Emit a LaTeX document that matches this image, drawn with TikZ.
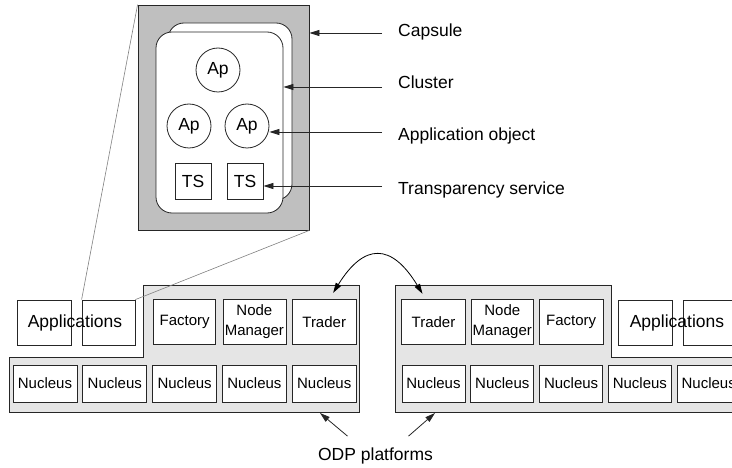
\documentclass[tikz,border=0pt]{standalone}
\usepackage{fontspec}
\setmainfont{Liberation Sans}
\usetikzlibrary{arrows.meta,positioning,calc}

\newcommand{\bigtext}{\fontsize{17.5}{21}\selectfont}
\newcommand{\smalltext}{\fontsize{15}{16.5}\selectfont}

\begin{document}
\begin{tikzpicture}[
    x=1pt, y=-1pt,
    box/.style={rectangle, draw=black!85, fill=white, line width=0.8pt, inner sep=0pt, font=\smalltext, align=center, minimum width=64, minimum height=45},
    nucbox/.style={box, minimum height=37},
    appbox/.style={box, minimum width=54},
    tsbox/.style={box, minimum width=36, minimum height=36, font=\bigtext},
    apcircle/.style={circle, draw=black!85, fill=white, line width=0.8pt, inner sep=0pt, minimum size=44, font=\bigtext},
    cluster/.style={rectangle, rounded corners=16pt, draw=black!85, fill=white, line width=0.8pt},
    platform/.style={draw=black!85, fill=gray!20, line width=0.8pt},
    label/.style={inner sep=0pt, font=\bigtext, anchor=base west},
    pointer/.style={-{Triangle[length=10pt,width=6pt]}, line width=0.8pt, black!85},
    zoomline/.style={gray, line width=0.6pt}
]
    \clip (0,0) rectangle (732,468);

    % the two platforms
    \draw[platform] (9,357) -- (143,357) -- (143,285) -- (359,285) -- (359,412) -- (9,412) -- cycle;
    \draw[platform] (395,285) -- (611,285) -- (611,357) -- (760,357) -- (760,412) -- (395,412) -- cycle;

    % left platform
    \node[nucbox] (n1) at (45,383.5) {Nucleus};
    \node[nucbox, right=5pt of n1] (n2) {Nucleus};
    \node[nucbox, right=5pt of n2] (n3) {Nucleus};
    \node[nucbox, right=5pt of n3] (n4) {Nucleus};
    \node[nucbox, right=5pt of n4] (n5) {Nucleus};
    \node[box, above=20pt of n3, minimum width=62] (fac1) {Factory};
    \node[box, above=20pt of n4, minimum width=63] (nm1) {Node\\[3pt]Manager};
    \node[box, above=20pt of n5] (tr1) {Trader};
    \node[appbox] (app1) at (44,322.5) {};
    \node[appbox, minimum width=53] (app2) at (108.5,322.5) {};
    \node[inner sep=0pt, font=\bigtext] (appsL) at (75,322.5) {Applications};

    % right platform
    \node[nucbox, minimum width=63] (m1) at (433.5,383.5) {Nucleus};
    \node[nucbox, minimum width=63, right=5pt of m1] (m2) {Nucleus};
    \node[nucbox, minimum width=63, right=5pt of m2] (m3) {Nucleus};
    \node[nucbox, minimum width=63, right=5pt of m3] (m4) {Nucleus};
    \node[nucbox, minimum width=63, right=5pt of m4] (m5) {Nucleus};
    \node[box, above=20pt of m1] (tr2) {Trader};
    \node[box, above=20pt of m2, minimum width=62] (nm2) {Node\\[3pt]Manager};
    \node[box, above=20pt of m3] (fac2) {Factory};
    \node[appbox] (app3) at (645,322.5) {};
    \node[appbox, minimum width=53] (app4) at (709.5,322.5) {};
    \node[inner sep=0pt, font=\bigtext] (appsR) at (677,322.5) {Applications};

    % traders talk to each other
    \draw[{Triangle[length=10pt,width=6pt]}-{Triangle[length=10pt,width=6pt]}, line width=0.8pt]
        ($(tr1.north)+(9,-6)$) .. controls ($(tr1.north)+(40,-56)$) and ($(tr2.north)+(-42,-56)$) .. ($(tr2.north)+(-11,-5)$);

    % capsule with its clusters
    \node[rectangle, draw=black!85, fill=gray!50, line width=0.8pt, minimum width=171, minimum height=225] (capsule) at (223.5,117.5) {};
    \draw[zoomline] (capsule.north west) -- (app2.north west);
    \draw[zoomline] (capsule.south east) -- (app2.north east);
    \node[cluster, minimum width=124, minimum height=177] (clback) at (230,111.5) {};
    \node[cluster, minimum width=127, minimum height=181] (clfront) at (219.5,122.5) {};
    \node[apcircle] (ap1) at (218,70) {Ap};
    \node[apcircle] (ap2) at (189,126) {Ap};
    \node[apcircle] (ap3) at (247,126) {Ap};
    \node[tsbox] (ts1) at (193,181) {TS};
    \node[tsbox] (ts2) at (245,181) {TS};

    % legend on the right
    \node[label] (lcaps) at (398,37) {Capsule};
    \node[label] (lclus) at (398,89) {Cluster};
    \node[label] (lapp) at (398,141) {Application object};
    \node[label] (lts) at (398,195) {Transparency service};
    \coordinate (pcaps) at (382,33);
    \coordinate (pclus) at (382,87);
    \coordinate (papp) at (382,132);
    \coordinate (pts) at (382,186);
    \draw[pointer] (pcaps) -- (pcaps -| capsule.east);
    \draw[pointer] (pclus) -- (pclus -| clfront.east);
    \draw[pointer] (papp) -- (papp -| ap3.east);
    \draw[pointer] (pts) -- (pts -| ts2.east);

    % platforms caption
    \node[inner sep=0pt, font=\bigtext, anchor=base] (odp) at (375.5,460) {ODP platforms};
    \coordinate (odpL) at (320,413);
    \coordinate (odpR) at (435,413);
    \draw[pointer] ($(odp.north)+(-28,-11)$) -- (odpL);
    \draw[pointer] ($(odp.north)+(33,-11)$) -- (odpR);
\end{tikzpicture}
\end{document}
